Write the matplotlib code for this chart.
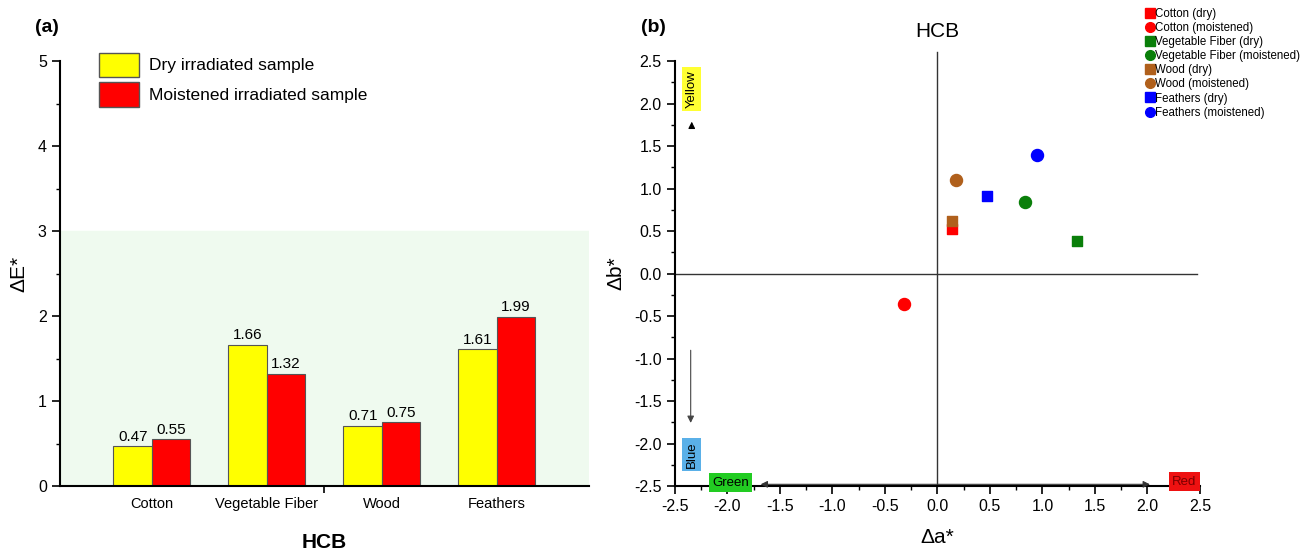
import matplotlib
matplotlib.use("Agg")
import matplotlib.pyplot as plt
import numpy as np
from matplotlib.lines import Line2D
from matplotlib.patches import Patch

plt.rcParams['font.family'] = ['Liberation Sans', 'DejaVu Sans']
plt.rcParams['axes.unicode_minus'] = False

# (a) colour difference bars
categories = ["Cotton", "Vegetable Fiber", "Wood", "Feathers"]
dry_dE = [0.47, 1.66, 0.71, 1.61]
moist_dE = [0.55, 1.32, 0.75, 1.99]

# (b) CIELab shifts
sample_labels = ["Cotton (dry)", "Cotton (moistened)",
                 "Vegetable Fiber (dry)", "Vegetable Fiber (moistened)",
                 "Wood (dry)", "Wood (moistened)",
                 "Feathers (dry)", "Feathers (moistened)"]
da = [0.14, -0.32, 1.33, 0.83, 0.14, 0.18, 0.47, 0.95]
db = [0.53, -0.36, 0.38, 0.84, 0.62, 1.10, 0.91, 1.40]
colors = ["#ff0000", "#ff0000", "#0a7f0a", "#0a7f0a",
          "#b0601c", "#b0601c", "#0000ff", "#0000ff"]
markers = ["s", "o", "s", "o", "s", "o", "s", "o"]

fig = plt.figure(figsize=(13.06, 5.54), dpi=100)

# ---------- panel (a) ----------
ax1 = fig.add_axes([0.0459, 0.1227, 0.405, 0.767])
x = np.arange(len(categories))
w = 0.335
ax1.axhspan(0, 3, color="#effaef", zorder=0)
b1 = ax1.bar(x - w / 2, dry_dE, w, color="#ffff00", edgecolor="#555555", linewidth=0.8, zorder=2)
b2 = ax1.bar(x + w / 2, moist_dE, w, color="#ff0000", edgecolor="#555555", linewidth=0.8, zorder=2)
for rect, v in zip(list(b1) + list(b2), dry_dE + moist_dE):
    ax1.text(rect.get_x() + rect.get_width() / 2, v + 0.03, f"{v:.2f}",
             ha="center", va="bottom", fontsize=11)
ax1.set_xlim(-0.8, 3.8)
ax1.set_ylim(0, 5)
ax1.set_xticks(x)
ax1.set_xticklabels(categories, fontsize=10.5)
ax1.tick_params(axis="x", length=0, pad=8)
ax1.set_xticks([1.5], minor=True)
ax1.tick_params(axis="x", which="minor", length=5, width=1.2)
ax1.set_yticks(range(6))
ax1.set_yticks(np.arange(0.5, 5, 1), minor=True)
ax1.tick_params(axis="y", labelsize=11.5, length=6, width=1.2)
ax1.tick_params(axis="y", which="minor", length=3, width=1)
for s in ["top", "right"]:
    ax1.spines[s].set_visible(False)
for s in ["left", "bottom"]:
    ax1.spines[s].set_linewidth(1.5)
ax1.set_ylabel("ΔE*", fontsize=15, labelpad=7)
ax1.set_xlabel("HCB", fontsize=15, fontweight="bold", labelpad=16)
ax1.legend([Patch(facecolor="#ffff00", edgecolor="#555555"),
            Patch(facecolor="#ff0000", edgecolor="#555555")],
           ["Dry irradiated sample", "Moistened irradiated sample"],
           loc="upper left", bbox_to_anchor=(0.074, 1.02), frameon=False,
           fontsize=12.5, handlelength=2.3, handleheight=1.8, handletextpad=0.6,
           labelspacing=0.3, borderpad=0, borderaxespad=0)
fig.text(0.027, 0.95, "(a)", fontsize=14, fontweight="bold", va="center")

# ---------- panel (b) ----------
ax2 = fig.add_axes([0.5168, 0.1227, 0.402, 0.767])
ax2.set_xlim(-2.5, 2.5)
ax2.set_ylim(-2.5, 2.5)
ax2.plot([0, 0], [-2.5, 2.61], color="#333333", lw=1, clip_on=False, zorder=1)
ax2.plot([-2.5, 2.47], [0, 0], color="#333333", lw=1, zorder=1)
handles = []
for xi, yi, c, m, lab in zip(da, db, colors, markers, sample_labels):
    ax2.scatter(xi, yi, color=c, marker=m, s=75 if m == "o" else 55, zorder=3)
    handles.append(Line2D([], [], color=c, marker=m, linestyle="none",
                          markersize=7 if m == "o" else 6.5, label=lab))

ax2.set_xticks(np.arange(-2.5, 2.51, 0.5))
ax2.set_yticks(np.arange(-2.5, 2.51, 0.5))
ax2.set_xticks(np.arange(-2.5, 2.51, 0.25), minor=True)
ax2.set_yticks(np.arange(-2.5, 2.51, 0.25), minor=True)
ax2.tick_params(labelsize=11.5, length=6, width=1.2)
ax2.tick_params(which="minor", length=3, width=1)
for s in ["top", "right"]:
    ax2.spines[s].set_visible(False)
for s in ["left", "bottom"]:
    ax2.spines[s].set_linewidth(1.5)
ax2.set_xlabel("Δa*", fontsize=15, labelpad=10)
ax2.set_ylabel("Δb*", fontsize=15, labelpad=6)
ax2.set_title("HCB", fontsize=15, pad=17)

# colour direction hints
ax2.text(-2.34, 2.17, "Yellow", rotation=90, ha="center", va="center", fontsize=9.5,
         bbox=dict(boxstyle="square,pad=0.25", facecolor="#ffff33", edgecolor="none"))
ax2.annotate("", xy=(-2.34, 1.82), xytext=(-2.34, 1.72),
             arrowprops=dict(arrowstyle="-|>", color="black", lw=0.8, mutation_scale=10))
ax2.annotate("", xy=(-2.35, -1.79), xytext=(-2.35, -0.87),
             arrowprops=dict(arrowstyle="-|>", color="#444444", lw=0.8, mutation_scale=10))
ax2.text(-2.34, -2.13, "Blue", rotation=90, ha="center", va="center", fontsize=9.5,
         bbox=dict(boxstyle="square,pad=0.25", facecolor="#5ab0e8", edgecolor="none"))
ax2.text(-1.97, -2.46, "Green", ha="center", va="center", fontsize=9.5,
         bbox=dict(boxstyle="square,pad=0.25", facecolor="#22cc22", edgecolor="none"))
ax2.annotate("", xy=(-1.71, -2.48), xytext=(2.05, -2.48),
             arrowprops=dict(arrowstyle="<|-|>", color="#333333", lw=0.8, mutation_scale=10))
ax2.text(2.35, -2.45, "Red", ha="center", va="center", fontsize=9.5, color="#7a0000",
         bbox=dict(boxstyle="square,pad=0.25", facecolor="#ee1111", edgecolor="none"))

fig.text(0.491, 0.95, "(b)", fontsize=14, fontweight="bold", va="center")
fig.legend(handles=handles, loc="upper left", bbox_to_anchor=(0.871, 1.0),
           frameon=False, fontsize=8.3, handlelength=0.7, handletextpad=0.15,
           labelspacing=0.18, borderpad=0.2)

fig.savefig("out.png", dpi=100)
